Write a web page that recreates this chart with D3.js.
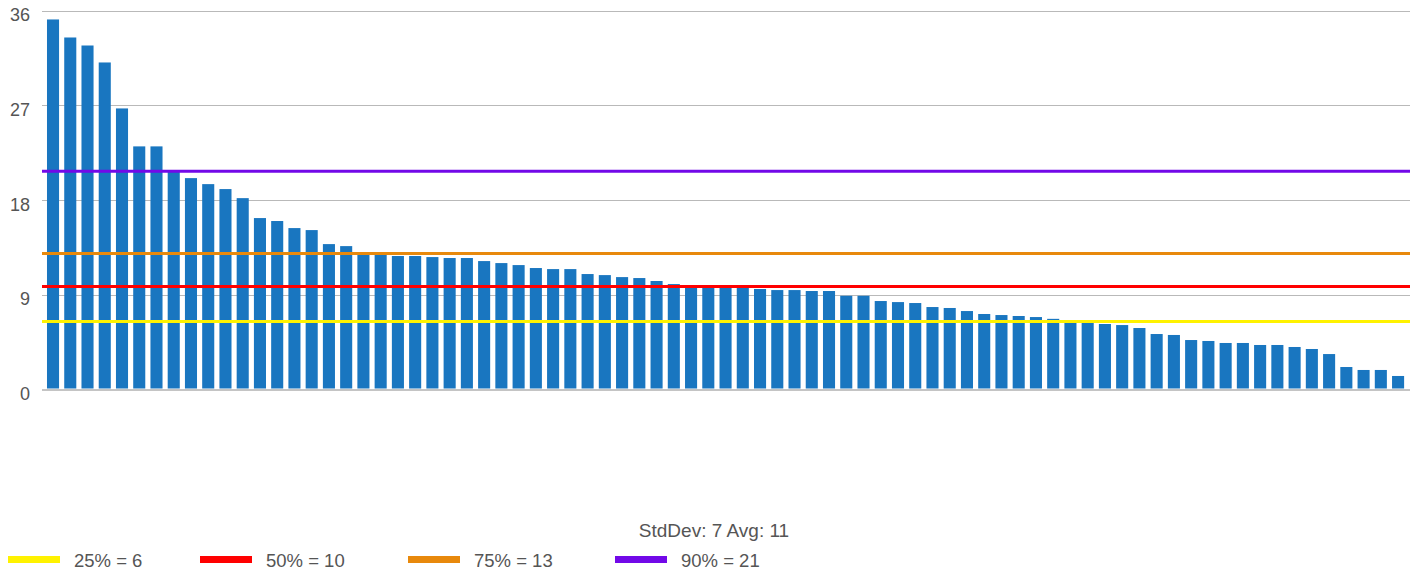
<!DOCTYPE html>
<html>
<head>
<meta charset="utf-8">
<script src="https://cdn.jsdelivr.net/npm/d3@7"></script>
<style>
  html, body { margin: 0; padding: 0; background: #fff; }
  svg { display: block; font-family: Arial, "Liberation Sans", sans-serif; }
</style>
</head>
<body>
<svg id="chart" width="1418" height="573"></svg>
<script>
// ---- data ----
const values = [
  35.15, 33.44, 32.68, 31.07, 26.71, 23.11, 23.11, 20.7, 20.1, 19.53,
  19.06, 18.2, 16.31, 16.03, 15.36, 15.17, 13.84, 13.65, 13.0, 13.0,
  12.71, 12.71, 12.61, 12.52, 12.52, 12.23, 12.04, 11.85, 11.57, 11.47,
  11.47, 11.0, 10.9, 10.71, 10.62, 10.34, 10.05, 9.8, 9.8, 9.8,
  9.8, 9.58, 9.48, 9.48, 9.39, 9.39, 8.94, 8.94, 8.44, 8.34,
  8.25, 7.87, 7.78, 7.49, 7.21, 7.11, 7.02, 6.92, 6.75, 6.5,
  6.5, 6.26, 6.16, 5.88, 5.31, 5.22, 4.74, 4.65, 4.46, 4.46,
  4.27, 4.27, 4.08, 3.89, 3.41, 2.18, 1.90, 1.90, 1.33
];
const categories = values.map((_, i) => String(i + 1));
const yTicks = [0, 9, 18, 27, 36];
const refLabels = ["25% = 6", "50% = 10", "75% = 13", "90% = 21"];
const refValues = [6.5, 9.83, 12.96, 20.74];
const refColors = ["#fff200", "#ff0000", "#e8890c", "#7209e8"];
const summaryText = "StdDev: 7 Avg: 11";

// ---- layout ----
const svg = d3.select("#chart");
const plotLeft = 42, plotRight = 1410;
const x = d3.scaleBand().domain(categories).range([44.4, 1406.7])
  .paddingInner(0.3).paddingOuter(0.15);
const y = d3.scaleLinear().domain([0, 36]).range([390, 10.5]);

// gridlines
svg.append("g").selectAll("line").data(yTicks.filter(t => t !== 0)).join("line")
  .attr("x1", plotLeft).attr("x2", plotRight)
  .attr("y1", d => Math.round(y(d)) + 0.5).attr("y2", d => Math.round(y(d)) + 0.5)
  .attr("stroke", "#b9b9b9").attr("stroke-width", 1);

// y axis labels
const yAxis = d3.axisLeft(y).tickValues(yTicks).tickSize(0).tickPadding(0);
const ag = svg.append("g").attr("transform", "translate(30,3.5)").call(yAxis);
ag.select(".domain").remove();
ag.selectAll("text").attr("font-size", 18).attr("fill", "#555")
  .attr("font-family", "Arial, 'Liberation Sans', sans-serif")
  .attr("dy", "0.35em");

// bars
svg.append("g").selectAll("rect").data(values).join("rect")
  .attr("x", (d, i) => x(categories[i]))
  .attr("width", x.bandwidth())
  .attr("y", d => y(d))
  .attr("height", d => y(0) - 1.5 - y(d))
  .attr("fill", "#1976c0");

// baseline
svg.append("line")
  .attr("x1", plotLeft).attr("x2", plotRight)
  .attr("y1", y(0)).attr("y2", y(0))
  .attr("stroke", "#c4c4c4").attr("stroke-width", 2);

// reference lines
svg.append("g").selectAll("line").data(refValues).join("line")
  .attr("x1", plotLeft).attr("x2", plotRight)
  .attr("y1", d => y(d)).attr("y2", d => y(d))
  .attr("stroke", (d, i) => refColors[i]).attr("stroke-width", 3);

// summary text
svg.append("text").attr("x", 714).attr("y", 537)
  .attr("text-anchor", "middle").attr("font-size", 19).attr("fill", "#555")
  .text(summaryText);

// legend
const legendX = [8, 200, 408, 615];
const lg = svg.append("g").selectAll("g").data(refLabels).join("g")
  .attr("transform", (d, i) => `translate(${legendX[i]},0)`);
lg.append("rect").attr("x", 0).attr("y", 556).attr("width", 52).attr("height", 7)
  .attr("fill", (d, i) => refColors[i]);
lg.append("text").attr("x", 66).attr("y", 566.5).attr("font-size", 18.5).attr("fill", "#555")
  .text(d => d);
</script>
</body>
</html>
